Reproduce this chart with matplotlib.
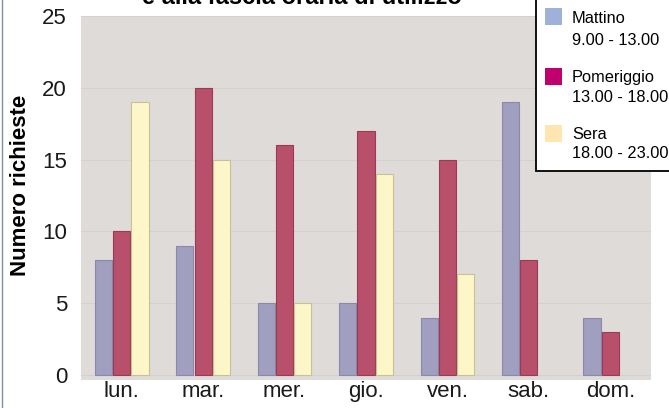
import matplotlib.pyplot as plt
import matplotlib.patches as mpatches
import numpy as np

giorni = ['lun.', 'mar.', 'mer.', 'gio.', 'ven.', 'sab.', 'dom.']
mattino = [8, 9, 5, 5, 4, 19, 4]
pomeriggio = [10, 20, 16, 17, 15, 8, 3]
sera = [19, 15, 5, 14, 7, 0, 0]

serie = ['Mattino', 'Pomeriggio', 'Sera']
orari = ['9.00 - 13.00', '13.00 - 18.00', '18.00 - 23.00']

plt.rcParams['font.family'] = ['Liberation Sans', 'DejaVu Sans']

W, H = 669, 408
fig = plt.figure(figsize=(W / 100, H / 100), dpi=100)
fig.patch.set_facecolor('white')

def fx(px):
    return px / W

def fy(py):
    return 1 - py / H

ax = fig.add_axes([fx(81), fy(380), fx(651) - fx(81), fy(16) - fy(380)])
ax.set_facecolor('#dfdbd8')
for s in ax.spines.values():
    s.set_visible(False)

x = np.arange(len(giorni))
w = 0.21
ax.bar(x - 0.225, mattino, w, color='#a19fbf', edgecolor='#8b88aa', linewidth=0.8, zorder=3)
ax.bar(x, pomeriggio, w, color='#b9506b', edgecolor='#9a3b55', linewidth=0.8, zorder=3)
ax.bar(x + 0.225, [v if v > 0 else np.nan for v in sera], w, color='#fdf6c8',
       edgecolor='#c9c192', linewidth=0.8, zorder=3)

ax.set_xlim(-0.5, 6.5)
ax.set_ylim(-0.35, 25)
ax.set_yticks([0, 5, 10, 15, 20, 25])
ax.yaxis.grid(True, color='#d6d0cd', linewidth=0.8, zorder=0)
ax.set_xticks(x)
ax.set_xticklabels(giorni)
ax.tick_params(axis='both', length=0, colors='#1a1a1a')
ax.tick_params(axis='y', pad=10, labelsize=16)
ax.tick_params(axis='x', pad=1, labelsize=16)

fig.text(fx(21), fy(185), 'Numero richieste', rotation=90, ha='center', va='center',
         fontsize=16, fontweight='bold')

# titolo tagliato in alto
fig.text(fx(302), fy(4.5), 'e alla fascia oraria di utilizzo', ha='center', va='baseline',
         fontsize=17, fontweight='bold')

# legenda
box = mpatches.Rectangle((fx(536), fy(171)), fx(700) - fx(536), fy(-20) - fy(171),
                         transform=fig.transFigure, facecolor='white', edgecolor='black',
                         linewidth=1.3, zorder=5)
fig.add_artist(box)
colori_leg = ['#9fb1d9', '#c0006e', '#ffe6b0']
patch_top = [8, 68, 125]
righe1 = [23, 82, 139]
righe2 = [45, 102, 158]
for i in range(3):
    p = mpatches.Rectangle((fx(545), fy(patch_top[i] + 17)), fx(17), 17 / H,
                           transform=fig.transFigure, facecolor=colori_leg[i],
                           edgecolor='none', zorder=6)
    fig.add_artist(p)
    fig.text(fx(572), fy(righe1[i]), serie[i], fontsize=11.8, va='baseline', zorder=7)
    fig.text(fx(572), fy(righe2[i]), orari[i], fontsize=11.8, va='baseline', zorder=7)

fig.add_artist(plt.Line2D([fx(2), fx(2)], [0, 1], transform=fig.transFigure,
                          color='#7f8fa8', linewidth=1))

fig.savefig('out.png', dpi=100)
